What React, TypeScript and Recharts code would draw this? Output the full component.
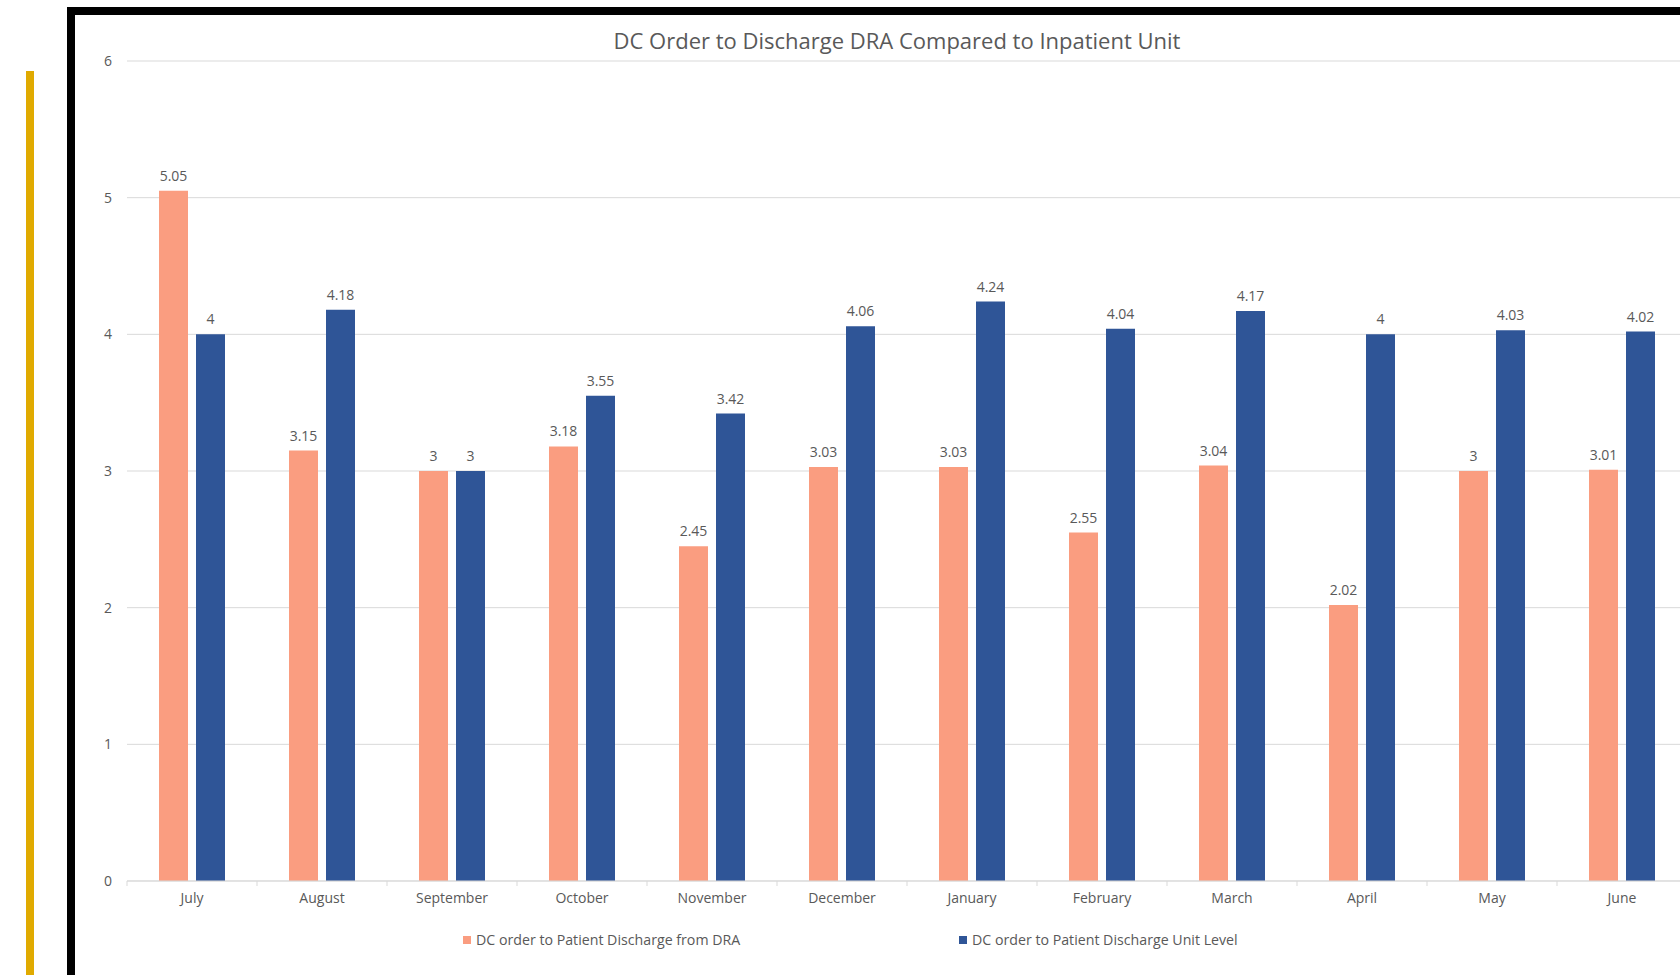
import { BarChart, Bar, XAxis, YAxis, CartesianGrid, LabelList } from 'recharts';

const months = ['July', 'August', 'September', 'October', 'November', 'December', 'January', 'February', 'March', 'April', 'May', 'June'];
const draValues = [5.05, 3.15, 3, 3.18, 2.45, 3.03, 3.03, 2.55, 3.04, 2.02, 3, 3.01];
const unitValues = [4, 4.18, 3, 3.55, 3.42, 4.06, 4.24, 4.04, 4.17, 4, 4.03, 4.02];
const yTicks = [0, 1, 2, 3, 4, 5, 6];

const draName = 'DC order to Patient Discharge from DRA';
const unitName = 'DC order to Patient Discharge Unit Level';

const ORANGE = '#FA9D80';
const BLUE = '#2F5597';
const TEXT = '#595959';
const FONT = '"Open Sans", sans-serif';

const data = months.map((m, i) => ({ month: m, dra: draValues[i], unit: unitValues[i] }));

// month label plus a small tick at the left edge of each category
const MonthTick = (props: any) => {
  const { x, y, payload, width, visibleTicksCount } = props;
  const band = width / visibleTicksCount;
  return (
    <g>
      <line x1={x - band / 2} x2={x - band / 2} y1={y - 8} y2={y - 3} stroke="#d9d9d9" />
      <text x={x} y={y + 14} textAnchor="middle" fill={TEXT} fontSize={14} fontFamily={FONT}>
        {payload.value}
      </text>
    </g>
  );
};

const legendItems = [
  { name: draName, color: ORANGE, left: 463 },
  { name: unitName, color: BLUE, left: 959 },
];

const App = () => {
  return (
    <div style={{ position: 'fixed', left: 0, top: 0, width: 1680, height: 975, overflow: 'hidden', background: '#fff' }}>
      <div style={{ position: 'absolute', left: 26, top: 71, width: 8, height: 904, background: '#E0AA00' }} />
      <div
        style={{
          position: 'absolute',
          left: 67,
          top: 7,
          width: 1700,
          height: 1000,
          borderTop: '8px solid #000',
          borderLeft: '8px solid #000',
        }}
      />
      <div
        style={{
          position: 'absolute',
          left: 0,
          width: 1794,
          top: 25,
          lineHeight: '30px',
          textAlign: 'center',
          fontFamily: FONT,
          fontSize: 22,
          color: TEXT,
        }}
      >
        DC Order to Discharge DRA Compared to Inpatient Unit
      </div>
      <div style={{ position: 'absolute', left: 0, top: 0 }}>
        <BarChart
          width={1700}
          height={975}
          data={data}
          margin={{ top: 61, right: 13, left: 0, bottom: 64 }}
          barSize={29}
          barGap={8}
        >
          <CartesianGrid vertical={false} stroke="#d9d9d9" />
          <XAxis
            dataKey="month"
            axisLine={{ stroke: '#d9d9d9' }}
            tickLine={false}
            tick={<MonthTick />}
            interval={0}
          />
          <YAxis
            width={127}
            domain={[0, 6]}
            ticks={yTicks}
            axisLine={false}
            tickLine={false}
            tickSize={0}
            tickMargin={15}
            tick={{ fill: TEXT, fontSize: 14, fontFamily: FONT }}
          />
          <Bar dataKey="dra" name={draName} fill={ORANGE} isAnimationActive={false}>
            <LabelList dataKey="dra" position="top" offset={10} fill={TEXT} fontSize={14} fontFamily={FONT} />
          </Bar>
          <Bar dataKey="unit" name={unitName} fill={BLUE} isAnimationActive={false}>
            <LabelList dataKey="unit" position="top" offset={10} fill={TEXT} fontSize={14} fontFamily={FONT} />
          </Bar>
        </BarChart>
      </div>
      {legendItems.map((item) => (
        <div
          key={item.name}
          style={{
            position: 'absolute',
            left: item.left,
            top: 931,
            display: 'flex',
            alignItems: 'center',
            lineHeight: '18px',
            fontFamily: FONT,
            fontSize: 14.2,
            color: TEXT,
            whiteSpace: 'nowrap',
          }}
        >
          <span style={{ width: 8, height: 8, background: item.color, display: 'inline-block', marginRight: 5 }} />
          <span>{item.name}</span>
        </div>
      ))}
    </div>
  );
};

export default App;
